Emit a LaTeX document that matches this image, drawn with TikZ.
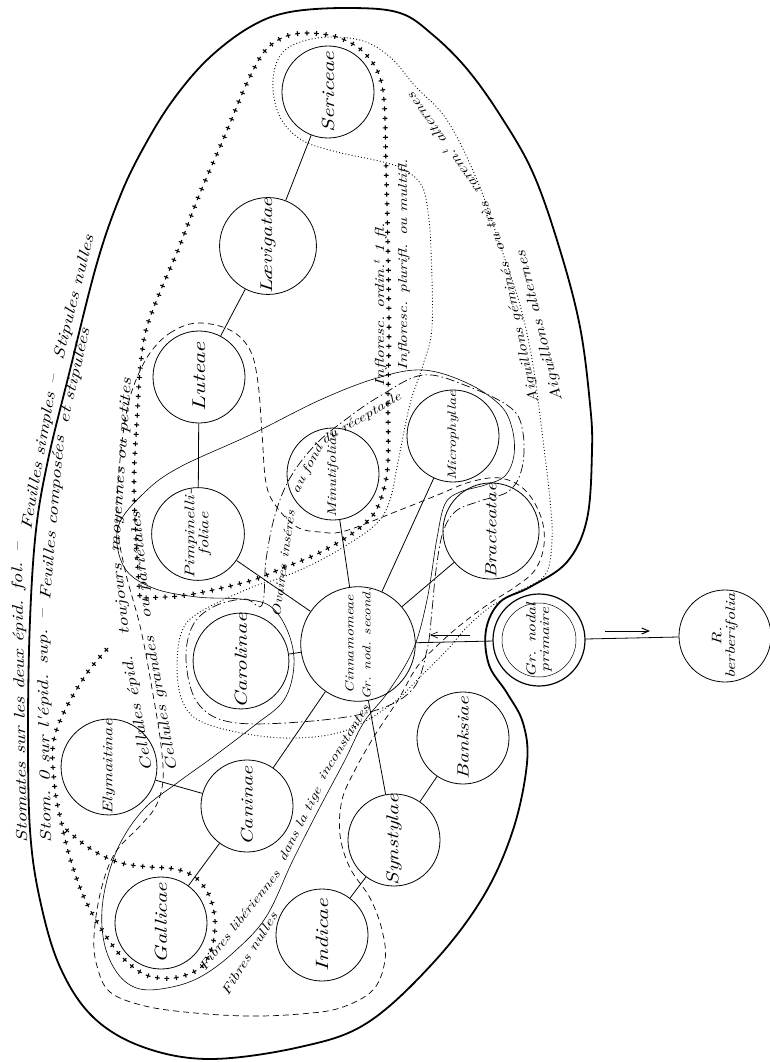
\documentclass[tikz,border=0pt]{standalone}
\usepackage{fontspec}
\newfontfamily\cur[FakeStretch=1.3]{lmroman10-italic.otf}
\usetikzlibrary{arrows.meta}
\newcommand{\fs}[1]{\cur\fontsize{#1}{#1}\selectfont}
\begin{document}
\begin{tikzpicture}[x=1pt,y=-1pt,
 rosa/.style={circle,draw,line width=0.8pt,minimum size=92pt,inner sep=0pt,rotate=90,font=\fs{16},align=center},
 edge/.style={line width=0.8pt},
 outerline/.style={line width=1.8pt},
 thinline/.style={line width=0.6pt},
 ldash/.style={line width=0.7pt,dash pattern=on 6pt off 4pt},
 ddot/.style={line width=0.7pt,dash pattern=on 9pt off 3pt on 1.5pt off 3pt},
 dotl/.style={line width=0.9pt,dash pattern=on 0.9pt off 2.3pt},
 crossbar/.style={line width=1.1pt,dash pattern=on 4.8pt off 4.7pt},
 crossstem/.style={line width=4.8pt,dash pattern=on 1.1pt off 8.4pt,dash phase=7.65pt},
 tx/.style={anchor=base west,inner sep=0pt,outer sep=0pt},
]
\useasboundingbox (0,0) rectangle (770,1062);

% nodes
\node[rosa,font=\fs{17.6}] (ser) at (328,92) {Sericeae};
\node[rosa,font=\fs{17}] (lae) at (268,246) {Lævigatae};
\node[rosa,font=\fs{18.5}] (lut) at (199,377) {Luteae};
\node[rosa,font=\fs{14}] (pim) at (198,534) {Pimpinelli-\\foliae};
\node[rosa,font=\fs{12.6}] (min) at (333,474) {Minutifoliae};
\node[rosa,font=\fs{12.3}] (mic) at (453,436) {Microphyllae};
\node[rosa,font=\fs{16}] (bra) at (491,531) {Bracteatae};
\node[rosa] (cin) at (358,644) {{\fs{12.2}Cinnamomeae}\\[1pt]{\fs{11.6}Gr. nod. second.}};
\node[rosa,font=\fs{17.4}] (car) at (241,661) {Carolinae};
\node[rosa,font=\fs{16.8}] (can) at (247,806) {Caninae};
\node[rosa,font=\fs{17.2}] (syn) at (394,840) {Synstylae};
\node[rosa,font=\fs{16.3}] (ban) at (463,738) {Banksiae};
\node[rosa,font=\fs{17.8}] (ind) at (322,935) {Indicae};
\node[rosa,font=\fs{17.3}] (gal) at (161,923) {Gallicae};
\node[rosa,font=\fs{14}] (ely) at (109,767) {Elymaitinae};
\node[rosa,line width=1.2pt,font=\fs{13.4}] (grn) at (539,640) {Gr. nodal\\primaire};
\draw[line width=0.5pt] (grn.center) circle (37pt);
\node[rosa,font=\fs{13.8}] (rb) at (725,636) {R.\\berberifolia};

% edges
\draw[edge] (ser)--(lae) (lae)--(lut) (lut)--(pim) (pim)--(cin) (min)--(cin)
 (mic)--(cin) (bra)--(cin) (car)--(cin) (cin)--(can) (cin)--(syn)
 (can)--(ely) (can)--(gal) (syn)--(ban) (syn)--(ind) (cin)--(grn) (grn)--(rb);

\coordinate (a1s) at (470,635); \coordinate (a1e) at (430,635);
\draw[thinline,-{Straight Barb[length=7pt,width=6pt]}] (a1s)--(a1e);
\coordinate (a2s) at (605,631); \coordinate (a2e) at (650,631);
\draw[line width=1pt,-{Straight Barb[length=7pt,width=6pt]}] (a2s)--(a2e);

% outer boundary
\draw[outerline] plot[smooth cycle,tension=0.6] coordinates {
(592,450) (587,519) (567,562) (530,587) (500,602) (486,630) (489,665) (507,693) (523,723)
(527,763) (513,830) (483,897) (433,963) (367,1023) (300,1047) (210,1059) (143,1047)
(93,1017) (60,967) (40,900) (30,830) (28,728) (30,620) (36,530) (48,460) (69,374)
(97,263) (121,194) (145,145) (173,100) (208,59) (250,27) (290,12) (350,8) (400,13)
(433,35) (467,69) (500,115) (533,173) (560,250) (580,327) (590,404)};

% thin solid (fibres)
\draw[thinline] plot[smooth cycle,tension=0.6] coordinates {
(427,600) (437,538) (445,504) (460,492) (485,485) (505,476) (514,455) (512,428) (500,405)
(467,383) (423,370) (377,378) (320,400) (250,435) (180,467) (145,492) (118,527) (124,567)
(153,588) (197,597) (240,599) (270,606) (288,632) (294,665) (284,700) (255,725) (213,757)
(177,783) (143,810) (117,850) (103,900) (104,942) (118,974) (140,989) (172,987) (202,976)
(234,952) (266,917) (293,860) (320,807) (345,760) (364,722) (388,692) (413,650)};

% long dashed (cellules)
\draw[ldash] plot[smooth cycle,tension=0.6] coordinates {
(150,353) (170,333) (197,323) (230,330) (250,350) (258,383) (262,433) (266,483) (276,506)
(297,527) (320,532) (345,531) (400,510) (440,494) (470,482) (500,478) (525,490) (541,517)
(544,545) (535,570) (515,587) (490,603) (463,623) (440,643) (417,667) (398,700) (375,735)
(355,770) (342,800) (340,835) (350,868) (370,898) (382,930) (385,960) (373,990) (340,1008)
(300,1014) (250,1016) (195,1013) (145,1006) (110,992) (97,966) (94,936) (101,890) (115,853)
(140,826) (156,806) (163,780) (161,745) (154,700) (141,630) (125,570) (117,520) (120,460)
(127,410) (136,380)};

% dash-dot (ovaires)
\draw[ddot] plot[smooth cycle,tension=0.6] coordinates {
(262,605) (266,560) (275,515) (290,478) (315,445) (345,420) (380,396) (423,375) (467,386)
(511,408) (523,433) (522,468) (509,491) (480,501) (456,511) (443,532) (436,570) (432,610)
(427,650) (412,690) (370,712) (300,722) (230,722) (197,702) (186,660) (193,625) (215,606)
(245,599)};

% dotted (inflorescence / aiguillons)
\draw[dotl] plot[smooth cycle,tension=0.6] coordinates {
(250,588) (283,577) (317,562) (350,543) (377,523) (390,500) (398,462) (410,404) (423,365)
(432,327) (431,250) (428,212) (422,186) (405,170) (383,162) (333,151) (300,139) (279,115)
(273,80) (284,51) (317,38) (360,40) (390,57) (415,86) (447,120) (477,180) (500,245) (520,305)
(533,365) (543,440) (550,500) (552,540) (545,575) (515,593) (490,607) (467,627) (447,650)
(420,677) (393,703) (347,730) (297,738) (247,734) (200,721) (182,700) (177,666) (182,631)
(200,612)};

% crosses
\foreach \st in {crossbar,crossstem}{
\draw[\st] plot[smooth,tension=0.55] coordinates {
(140,598) (136,540) (134,480) (137,420) (140,370) (146,330) (160,292) (178,250) (200,193)
(223,140) (246,85) (264,52) (284,37) (308,33) (337,37) (360,49) (377,70) (384,100) (386,167)
(388,250) (389,330) (388,400) (388,462) (383,492) (373,515) (350,535) (317,554) (283,568)
(253,580) (213,590) (180,596) (140,598)};
\draw[\st] plot[smooth,tension=0.55] coordinates {
(108,648) (87,673) (64,712) (53,745) (55,790) (62,825) (70,858) (83,895) (100,927) (122,957)
(146,975) (174,978) (200,968) (212,947) (215,920) (209,895) (195,877) (175,869) (150,867)
(125,864) (105,857) (85,845) (62,826)};
}

% texts
\node[tx,rotate=91,font=\fs{15.6}] (t1a) at (27,842) {Stomates sur les deux épid. fol. –};
\node[tx,rotate=80,font=\fs{15.6}] (t1b) at (31,530) {Feuilles simples –};
\node[tx,rotate=76,font=\fs{15.6}] (t1c) at (63,360) {Stipules nulles};

\node[tx,rotate=91,font=\fs{15.6}] (t2a) at (51,842) {Stom. 0 sur l'épid. sup. –};
\node[tx,rotate=85,font=\fs{15.6}] (t2b) at (50,600) {Feuilles composées};
\node[tx,rotate=77,font=\fs{15.6}] (t2c) at (68,424) {et stipulées};

\node[tx,rotate=100,font=\fs{15.2}] (t3a) at (152,770) {Cellules épid.};
\node[tx,rotate=96,font=\fs{15.2}] (t3b) at (129,634) {toujours};
\node[tx,rotate=86,font=\fs{15.2}] (t3c) at (119,552) {moyennes ou petites};

\node[tx,rotate=100,font=\fs{14.8}] (t4a) at (177,770) {Cellules grandes};
\node[tx,rotate=96,font=\fs{14.8}] (t4b) at (151,618) {ou pariétales};

\node[tx,rotate=82,font=\fs{12.4}] (t5a) at (280,617) {Ovaires insérés};
\node[tx,rotate=62,font=\fs{12.4}] (t5b) at (298,494) {au fond};
\node[tx,rotate=30,font=\fs{12.4}] (t5c) at (324,444) {du réceptacle};

\node[tx,rotate=90,font=\fs{13.2}] (t6) at (384,386) {Infloresc. ordin.\textsuperscript{t} 1 fl.};
\node[tx,rotate=90,font=\fs{13}] (t7) at (407,370) {Infloresc. plurifl. ou multifl.};

\node[tx,rotate=102,font=\fs{13.4}] (t8a) at (538,402) {Aiguillons géminés};
\node[tx,rotate=110,font=\fs{13.4}] (t8b) at (505,250) {ou très};
\node[tx,rotate=125,font=\fs{13.4}] (t8c) at (482,190) {rarem.\textsuperscript{t} alternes};
\node[tx,rotate=104,font=\fs{14.6}] (t9) at (562,400) {Aiguillons alternes};

\node[tx,rotate=52,font=\fs{12.4}] (t10a) at (205,971) {Fibres libériennes};
\node[tx,rotate=63,font=\fs{12.4}] (t10b) at (285,862) {dans la tige};
\node[tx,rotate=58,font=\fs{12.4}] (t10c) at (324,781) {inconstantes};
\node[tx,rotate=58,font=\fs{13}] (t11) at (228,996) {Fibres nulles};
\end{tikzpicture}
\end{document}
